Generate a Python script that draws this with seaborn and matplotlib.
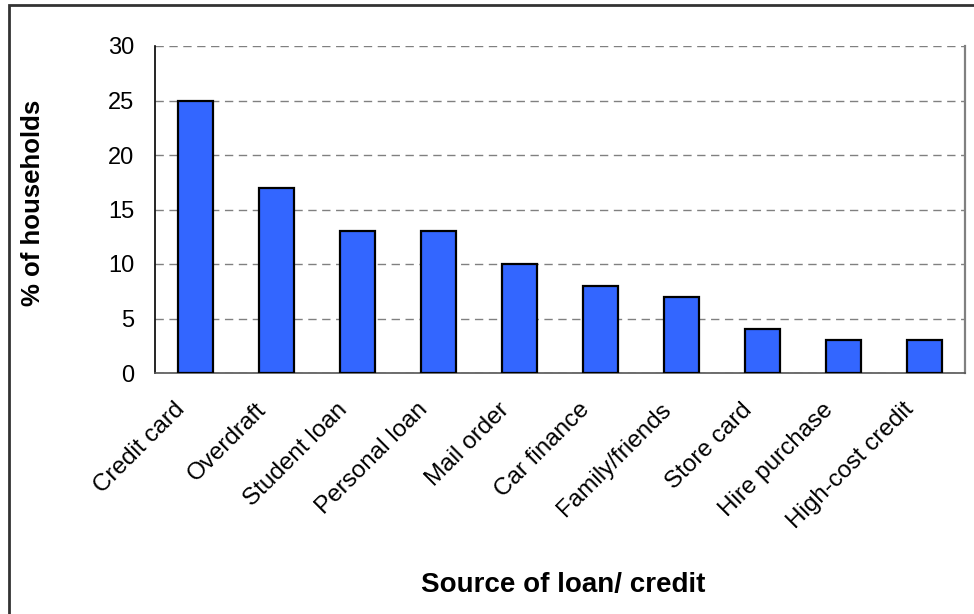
import matplotlib
matplotlib.use("Agg")
import matplotlib.pyplot as plt
import seaborn as sns
import pandas as pd
from matplotlib.patches import Rectangle
from matplotlib.ticker import FixedLocator
from matplotlib.transforms import ScaledTranslation

sources = ["Credit card", "Overdraft", "Student loan", "Personal loan", "Mail order",
           "Car finance", "Family/friends", "Store card", "Hire purchase", "High-cost credit"]
shares = [25, 17, 13, 13, 10, 8, 7, 4, 3, 3]
y_ticks = [0, 5, 10, 15, 20, 25, 30]

df = pd.DataFrame({"source": sources, "share": shares})

sns.set_style("white")
plt.rcParams["font.family"] = ["Liberation Sans", "DejaVu Sans"]
plt.rcParams["text.color"] = "black"
plt.rcParams["xtick.labelcolor"] = "black"
plt.rcParams["ytick.labelcolor"] = "black"

W, H = 974, 614
fig = plt.figure(figsize=(W / 100, H / 100), dpi=100)
ax = fig.add_axes([155 / W, 1 - 373 / H, 810 / W, 327 / H])

sns.barplot(data=df, x="source", y="share", color="#3366FF", saturation=1,
            width=0.42, edgecolor="black", linewidth=1.6, ax=ax, zorder=3)

ax.set_xlim(-0.5, len(sources) - 0.5)
ax.set_ylim(0, 30)
ax.set_yticks(y_ticks)
ax.yaxis.grid(True, linestyle=(0, (6, 4)), color="#808080", linewidth=1.0, zorder=0)
ax.xaxis.grid(False)

ax.spines["top"].set_visible(False)
ax.spines["left"].set_color("black")
ax.spines["left"].set_linewidth(1.2)
ax.spines["bottom"].set_color("#555555")
ax.spines["bottom"].set_linewidth(1.2)
ax.spines["right"].set_color("#808080")
ax.spines["right"].set_linewidth(1.6)

# category labels centred on bars, tick marks on category boundaries
ax.set_xticks(range(len(sources)))
ax.set_xticklabels(sources, rotation=45, ha="right", va="center",
                   rotation_mode="anchor", fontsize=17.5, color="black")
ax.tick_params(axis="x", which="major", length=0, pad=24)
shift = ScaledTranslation(-10 / 72, 0, fig.dpi_scale_trans)
for lbl in ax.get_xticklabels():
    lbl.set_transform(lbl.get_transform() + shift)
ax.xaxis.set_minor_locator(FixedLocator([i - 0.5 for i in range(len(sources) + 1)]))
ax.tick_params(axis="x", which="minor", length=6, width=1.2, color="#555555", direction="out")
ax.tick_params(axis="y", length=6, width=1.0, color="#555555", direction="out",
               labelsize=17, pad=9, labelcolor="black")

ax.set_xlabel("")
ax.set_ylabel("")
fig.text(563 / W, 1 - 592 / H, "Source of loan/ credit", fontsize=20, fontweight="bold",
         ha="center", va="baseline", color="black")
fig.text(33 / W, 1 - 203 / H, "% of households", fontsize=18.5, fontweight="bold",
         ha="center", va="center", rotation=90, color="black")

fig.patches.append(Rectangle((9 / W, -0.05), 1.2, 1 - 5 / H + 0.05,
                             transform=fig.transFigure, fill=False,
                             edgecolor="#333333", linewidth=2.0, zorder=0))

fig.savefig("out.png", dpi=100)
